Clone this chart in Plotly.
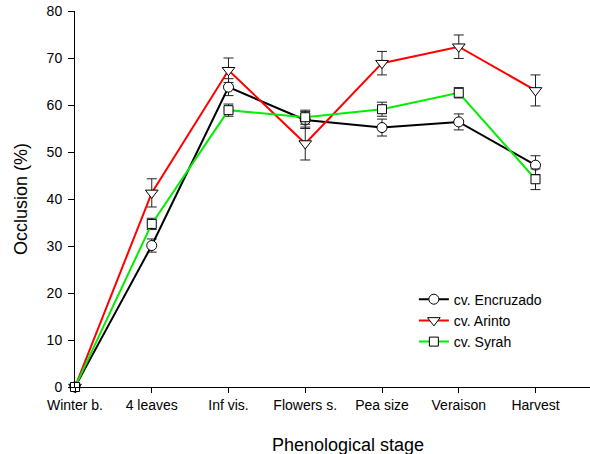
import plotly.graph_objects as go

stages = ["Winter b.", "4 leaves", "Inf vis.", "Flowers s.", "Pea size", "Veraison", "Harvest"]
x_pos = [0, 1, 2, 3, 4, 5, 6]

encruzado = [0, 30.1, 63.8, 56.8, 55.2, 56.4, 47.2]
encruzado_err = [0.3, 1.4, 1.8, 1.8, 1.8, 1.7, 2.0]

arinto = [0, 41.3, 67.4, 51.8, 68.9, 72.4, 63.1]
arinto_err = [0.3, 3.0, 2.6, 3.5, 2.5, 2.5, 3.3]

syrah = [0, 34.7, 58.9, 57.4, 59.1, 62.6, 44.2]
syrah_err = [0.3, 1.2, 1.3, 1.5, 1.5, 1.1, 2.2]

y_ticks = [0, 10, 20, 30, 40, 50, 60, 70, 80]

fig = go.Figure()

def add(name, vals, errs, color, symbol, size):
    fig.add_trace(go.Scatter(
        x=x_pos, y=vals, name=name, mode="lines+markers",
        line=dict(color=color, width=2),
        marker=dict(symbol=symbol, size=size, color="white",
                    line=dict(color="black", width=1)),
        error_y=dict(type="data", array=errs, visible=True,
                     color="#222222", thickness=1, width=5),
        cliponaxis=False,
    ))

add("cv. Encruzado", encruzado, encruzado_err, "black", "circle", 10)
add("cv. Arinto", arinto, arinto_err, "#ff0000", "triangle-down", 11)
add("cv. Syrah", syrah, syrah_err, "#00ee00", "square", 9)

fig.update_layout(
    width=590, height=454,
    margin=dict(l=75, r=0, t=11, b=67),
    paper_bgcolor="white", plot_bgcolor="white",
    font=dict(family="Liberation Sans, Arial, sans-serif", size=14, color="black"),
    showlegend=True,
    legend=dict(x=0.658, y=0.275, xanchor="left", yanchor="top",
                bgcolor="rgba(0,0,0,0)", font=dict(size=14),
                tracegroupgap=0),
    xaxis=dict(
        range=[0, 6.71], tickmode="array", tickvals=x_pos, ticktext=stages,
        showline=True, linecolor="black", linewidth=1,
        ticks="outside", ticklen=5, tickcolor="black",
        ticklabeloverflow="allow",
        showgrid=False, zeroline=False, automargin=False,
    ),
    yaxis=dict(
        range=[0, 80], tickmode="array", tickvals=y_ticks,
        showline=True, linecolor="black", linewidth=1,
        ticks="outside", ticklen=6, tickcolor="black",
        ticklabelstandoff=3, ticklabeloverflow="allow",
        showgrid=False, zeroline=False, automargin=False,
    ),
    annotations=[
        dict(text="Phenological stage", xref="paper", yref="paper",
             x=0.531, y=-0.154, xanchor="center", yanchor="middle",
             showarrow=False, font=dict(size=18)),
        dict(text="Occlusion (%)", xref="paper", yref="paper",
             x=-0.105, y=0.5, xanchor="center", yanchor="middle",
             textangle=-90, showarrow=False, font=dict(size=18)),
    ],
)

fig.write_html("out.html",
               config={"displayModeBar": False},
               post_script="document.body.style.margin='0';document.body.style.overflow='hidden';")
